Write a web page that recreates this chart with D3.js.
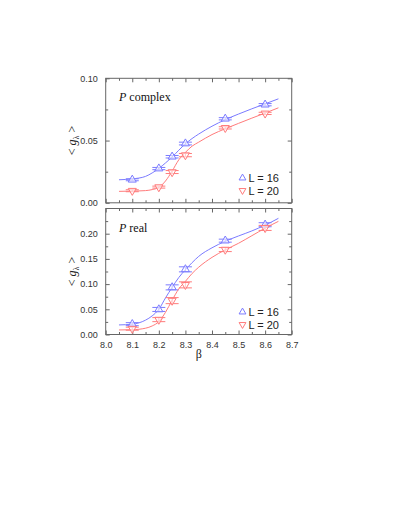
<!DOCTYPE html>
<html>
<head>
<meta charset="utf-8">
<script src="https://cdn.jsdelivr.net/npm/d3@7"></script>
<style>
  body { margin: 0; background: #fff; }
  .tick text { font-family: "Liberation Sans", Arial, sans-serif; }
</style>
</head>
<body>
<div id="chart"></div>
<script>
// measured points
var betas = [8.1, 8.2, 8.25, 8.3, 8.45, 8.6];
var complexL16 = [0.0185, 0.0275, 0.0370, 0.0476, 0.0675, 0.0788];
var complexL16Err = [0.0008, 0.0009, 0.0010, 0.0011, 0.0009, 0.0009];
var complexL20 = [0.0097, 0.0126, 0.0247, 0.0383, 0.0602, 0.0718];
var complexL20Err = [0.0008, 0.0008, 0.0012, 0.0013, 0.0009, 0.0009];
var realL16 = [0.0205, 0.0497, 0.0935, 0.1293, 0.1862, 0.2178];
var realL16Err = [0.003, 0.004, 0.005, 0.005, 0.003, 0.004];
var realL20 = [0.0115, 0.0295, 0.0672, 0.0985, 0.1685, 0.2115];
var realL20Err = [0.003, 0.004, 0.006, 0.006, 0.004, 0.005];

// fitted curves
var fitBetas = [8.05, 8.1, 8.15, 8.175, 8.2, 8.225, 8.25, 8.275, 8.3, 8.325, 8.35, 8.4, 8.45, 8.5, 8.55, 8.6, 8.65];
var complexFitL16 = [0.0185, 0.0192, 0.0212, 0.0240, 0.0276, 0.0320, 0.0368, 0.0422, 0.0474, 0.0516, 0.0552, 0.0615, 0.0668, 0.0713, 0.0755, 0.0795, 0.0835];
var complexFitL20 = [0.0092, 0.0094, 0.0098, 0.0106, 0.0124, 0.0175, 0.0255, 0.0345, 0.0405, 0.0455, 0.0487, 0.0548, 0.0595, 0.0638, 0.0680, 0.0721, 0.0763];
var realFitL16 = [0.019, 0.0205, 0.0285, 0.037, 0.050, 0.0725, 0.0935, 0.113, 0.1285, 0.1425, 0.155, 0.172, 0.185, 0.1955, 0.2055, 0.217, 0.2305];
var realFitL20 = [0.009, 0.0095, 0.0125, 0.017, 0.0255, 0.044, 0.068, 0.0905, 0.1055, 0.121, 0.1335, 0.153, 0.168, 0.181, 0.196, 0.211, 0.2245];

var xTicks = [8.0, 8.1, 8.2, 8.3, 8.4, 8.5, 8.6, 8.7];
var complexTicks = [0.00, 0.05, 0.10];
var realTicks = [0.00, 0.05, 0.10, 0.15, 0.20];
var legendLabels = ["L = 16", "L = 20"];

var svgWidth = 409;
var svgHeight = 529;
var blue = "#7b7bff";
var red = "#ff7b7b";
var frameColor = "#666";

var svg = d3.select("#chart")
  .append("svg")
  .attr("width", svgWidth)
  .attr("height", svgHeight);

var xScale = d3.scaleLinear()
  .domain([8.0, 8.7])
  .range([105.7, 291.7]);

function drawPanel(cfg) {
  var yScale = d3.scaleLinear()
    .domain(cfg.yDomain)
    .range([cfg.bottom, cfg.top]);

  var g = svg.append("g");
  var x0 = xScale.range()[0], x1 = xScale.range()[1];

  // minor + major ticks, all four sides, pointing in
  var xMinor = d3.range(8.05, 8.7, 0.1);
  var yMinor = d3.range(cfg.yStep / 2, cfg.yDomain[1], cfg.yStep);

  g.append("g")
    .attr("transform", `translate(0, ${cfg.bottom})`)
    .call(d3.axisBottom(xScale).tickValues(xMinor).tickSize(-2.5).tickFormat(""));
  g.append("g")
    .attr("transform", `translate(0, ${cfg.top})`)
    .call(d3.axisTop(xScale).tickValues(xMinor).tickSize(-2.5).tickFormat(""));
  g.append("g")
    .attr("transform", `translate(0, ${cfg.top})`)
    .call(d3.axisTop(xScale).tickValues(xTicks).tickSize(-4).tickFormat(""));
  g.append("g")
    .attr("transform", `translate(${x0}, 0)`)
    .call(d3.axisLeft(yScale).tickValues(yMinor).tickSize(-2.5).tickFormat(""));
  g.append("g")
    .attr("transform", `translate(${x1}, 0)`)
    .call(d3.axisRight(yScale).tickValues(yMinor).tickSize(-2.5).tickFormat(""));
  g.append("g")
    .attr("transform", `translate(${x1}, 0)`)
    .call(d3.axisRight(yScale).tickValues(cfg.yTicks).tickSize(-4).tickFormat(""));

  var bottomAxis = d3.axisBottom(xScale)
    .tickValues(xTicks)
    .tickSize(-4)
    .tickPadding(7)
    .tickFormat(cfg.showX ? d3.format(".1f") : "");
  g.append("g")
    .attr("transform", `translate(0, ${cfg.bottom})`)
    .call(bottomAxis);

  var leftAxis = d3.axisLeft(yScale)
    .tickValues(cfg.yTicks)
    .tickSize(-4)
    .tickPadding(8)
    .tickFormat(d3.format(".2f"));
  g.append("g")
    .attr("transform", `translate(${x0}, 0)`)
    .call(leftAxis);

  g.selectAll(".domain").remove();
  g.selectAll(".tick line").attr("stroke", frameColor);
  g.selectAll(".tick text")
    .style("font-size", "9px")
    .attr("fill", "#333");

  g.append("rect")
    .attr("x", x0)
    .attr("y", cfg.top)
    .attr("width", x1 - x0)
    .attr("height", cfg.bottom - cfg.top)
    .attr("fill", "none")
    .attr("stroke", frameColor)
    .attr("stroke-width", 1);

  var line = d3.line()
    .x(d => xScale(d[0]))
    .y(d => yScale(d[1]))
    .curve(d3.curveMonotoneX);

  cfg.series.forEach(function (s) {
    g.append("path")
      .datum(d3.zip(fitBetas, s.fit))
      .attr("d", line)
      .attr("fill", "none")
      .attr("stroke", s.color)
      .attr("stroke-width", 1);

    var pts = betas.map((b, i) => ({ b: b, v: s.values[i], e: s.errors[i] }));
    var pg = g.selectAll(null)
      .data(pts)
      .enter()
      .append("g")
      .attr("stroke", s.color)
      .attr("fill", "none");

    pg.append("line")
      .attr("x1", d => xScale(d.b))
      .attr("x2", d => xScale(d.b))
      .attr("y1", d => yScale(d.v - d.e))
      .attr("y2", d => yScale(d.v + d.e));
    pg.append("line")
      .attr("x1", d => xScale(d.b) - 6.5)
      .attr("x2", d => xScale(d.b) + 6.5)
      .attr("y1", d => yScale(d.v + d.e))
      .attr("y2", d => yScale(d.v + d.e));
    pg.append("line")
      .attr("x1", d => xScale(d.b) - 6.5)
      .attr("x2", d => xScale(d.b) + 6.5)
      .attr("y1", d => yScale(d.v - d.e))
      .attr("y2", d => yScale(d.v - d.e));
    pg.append("path")
      .attr("d", d3.symbol(d3.symbolTriangle, 28))
      .attr("fill", "#fff")
      .attr("fill-opacity", 0.6)
      .attr("transform", d => `translate(${xScale(d.b)}, ${yScale(d.v)}) rotate(${s.down ? 180 : 0})`);
  });

  // panel title
  var title = g.append("text")
    .attr("x", 119)
    .attr("y", cfg.top + 23)
    .style("font-family", "'Liberation Serif', 'Times New Roman', serif")
    .style("font-size", "12px")
    .attr("fill", "#111");
  title.append("tspan").style("font-style", "italic").text("P");
  title.append("tspan").text(" " + cfg.title);

  // legend
  cfg.series.forEach(function (s, i) {
    var ly = cfg.legendY + i * 12.5;
    g.append("path")
      .attr("d", d3.symbol(d3.symbolTriangle, 20))
      .attr("fill", "none")
      .attr("stroke", s.color)
      .attr("transform", `translate(242.5, ${ly}) rotate(${s.down ? 180 : 0})`);
    g.append("text")
      .attr("x", 248.5)
      .attr("y", ly + 4)
      .style("font-family", "'Liberation Sans', Arial, sans-serif")
      .style("font-size", "11px")
      .attr("fill", "#222")
      .text(legendLabels[i]);
  });

  // y label  < g_lambda >
  var cy = (cfg.top + cfg.bottom) / 2;
  var yl = g.append("text")
    .attr("transform", `translate(76, ${cy}) rotate(-90)`)
    .attr("text-anchor", "middle")
    .style("font-family", "'Liberation Serif', 'Times New Roman', serif")
    .style("font-size", "12px")
    .attr("fill", "#222");
  yl.append("tspan").text("<  ");
  yl.append("tspan").style("font-style", "italic").text("g");
  yl.append("tspan").attr("dy", 3).style("font-size", "8px").text("λ");
  yl.append("tspan").attr("dy", -3).text("  >");
}

drawPanel({
  yDomain: [0, 0.10],
  yStep: 0.05,
  yTicks: complexTicks,
  top: 78.3,
  bottom: 202.8,
  showX: false,
  title: "complex",
  legendY: 178,
  series: [
    { values: complexL16, errors: complexL16Err, fit: complexFitL16, color: blue, down: false },
    { values: complexL20, errors: complexL20Err, fit: complexFitL20, color: red, down: true }
  ]
});

drawPanel({
  yDomain: [0, 0.25],
  yStep: 0.05,
  yTicks: realTicks,
  top: 208.5,
  bottom: 334.5,
  showX: true,
  title: "real",
  legendY: 312,
  series: [
    { values: realL16, errors: realL16Err, fit: realFitL16, color: blue, down: false },
    { values: realL20, errors: realL20Err, fit: realFitL20, color: red, down: true }
  ]
});

svg.append("text")
  .attr("x", xScale(8.35))
  .attr("y", 358)
  .attr("text-anchor", "middle")
  .style("font-family", "'Liberation Serif', 'Times New Roman', serif")
  .style("font-size", "12px")
  .attr("fill", "#222")
  .text("β");
</script>
</body>
</html>
